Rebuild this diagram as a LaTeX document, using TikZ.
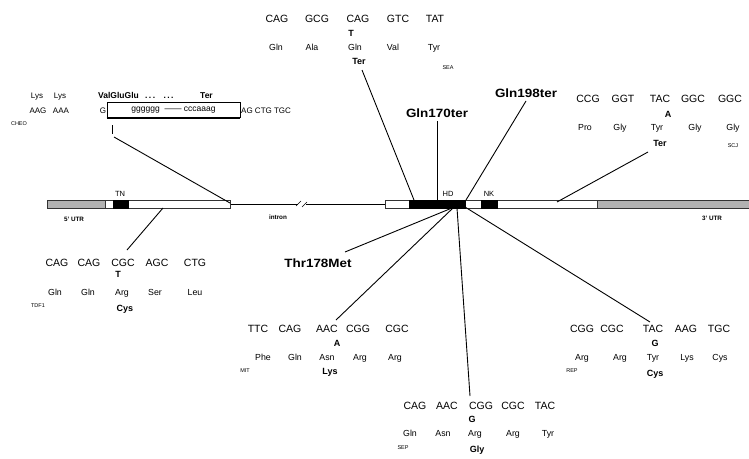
\documentclass[tikz,border=0pt]{standalone}
\usepackage{graphicx}
\usepackage{fontspec}
\setmainfont{Liberation Sans}
\tikzset{
 codon/.style={font=\fontsize{10.5}{12}\selectfont,inner sep=0pt,anchor=base},
 aa/.style={font=\fontsize{8.8}{10}\selectfont,inner sep=0pt,anchor=base},
 mut/.style={font=\bfseries\fontsize{9}{10}\selectfont,inner sep=0pt,anchor=base},
 smalltxt/.style={font=\fontsize{8}{9}\selectfont,inner sep=0pt,anchor=base},
 lab/.style={font=\bfseries\fontsize{12}{13}\selectfont,inner sep=0pt,anchor=base},
 tinylab/.style={font=\fontsize{5.5}{6}\selectfont,inner sep=0pt,anchor=base},
 partlab/.style={font=\fontsize{7.5}{9}\selectfont,inner sep=0pt,anchor=base},
 regionlab/.style={font=\bfseries\fontsize{6.3}{7}\selectfont,inner sep=0pt,anchor=base},
 conn/.style={line width=0.9pt},
 utr/.style={fill=gray!60,draw=black!80,line width=0.5pt},
 exon/.style={fill=white,draw=black!80,line width=0.5pt},
 dom/.style={fill=black,draw=black,line width=0.5pt},
}
\begin{document}
\begin{tikzpicture}[x=1pt,y=-1pt]
\useasboundingbox[fill=white] (0,0) rectangle (749,458);

% ---------------- gene structure ----------------
\draw[line width=0.7pt] (230,204) coordinate (ie1) -- (385,204) coordinate (ie2);
\fill[white] (298,199) rectangle (308,209);
\draw[line width=0.6pt] (296,206) -- (301,201);
\draw[line width=0.6pt] (302,207) -- (307,202);
\draw[line width=0.7pt] (296,204) -- (298,204) (306,204) -- (309,204);
\node[utr, minimum width=58pt, minimum height=8pt, inner sep=0, anchor=west] (utr5) at (47,204) {};
\node[exon, minimum width=125pt, minimum height=8pt, inner sep=0, anchor=west] (ex1) at (105,204) {};
\node[dom, minimum width=15pt, minimum height=8pt, inner sep=0, anchor=west] (tn) at (113,204) {};
\node[exon, minimum width=212pt, minimum height=8pt, inner sep=0, anchor=west] (ex2) at (385,204) {};
\node[dom, minimum width=56pt, minimum height=8pt, inner sep=0, anchor=west] (hd) at (409,204) {};
\node[dom, minimum width=16pt, minimum height=8pt, inner sep=0, anchor=west] (nk) at (481,204) {};
\node[utr, minimum width=152pt, minimum height=8pt, inner sep=0, anchor=west] (utr3) at (597,204) {};

\node[partlab] (tnl) at (120,196) {TN};
\node[partlab] (hdl) at (448,196) {HD};
\node[partlab] (nkl) at (489,196) {NK};
\node[regionlab] (u5l) at (74,221) {5' UTR};
\node[regionlab] (intl) at (278,219) {intron};
\node[regionlab] (u3l) at (712,220) {3' UTR};

% ---------------- connector endpoints on the gene ----------------
\coordinate (g1) at (414,200);
\coordinate (g2) at (437,200);
\coordinate (g3) at (466,200);
\coordinate (g4) at (557,202);
\coordinate (g5) at (230,203);
\coordinate (g6) at (163,208);
\coordinate (g7) at (452,208);
\coordinate (g8) at (453,208);
\coordinate (g9) at (457,208);
\coordinate (g10) at (465,207);

% ---------------- top group ----------------
\foreach \t/\x [count=\i] in {CAG/277,GCG/317,CAG/358,GTC/398,TAT/435}
  \node[codon] (tc\i) at (\x,22) {\t};
\node[mut] (tm) at (351,36) {T};
\foreach \t/\x [count=\i] in {Gln/276,Ala/312,Gln/355,Val/393,Tyr/434}
  \node[aa] (ta\i) at (\x,50) {\t};
\node[mut] (tter) at (359,64) {Ter};
\node[tinylab] (tid) at (448,69) {SEA};
\coordinate (t1) at (362,70);
\draw[conn] (t1) -- (g1);

% ---------------- Gln170ter / Gln198ter ----------------
\node[lab] (q170) at (437,117) {\scalebox{1.12}[1]{Gln170ter}};
\node[lab] (q198) at (526,97) {\scalebox{1.12}[1]{Gln198ter}};
\coordinate (t2) at (437,121);
\coordinate (t3) at (526,101);
\draw[conn] (t2) -- (g2);
\draw[conn] (t3) -- (g3);

% ---------------- right top group ----------------
\foreach \t/\x [count=\i] in {CCG/588,GGT/623,TAC/660,GGC/693,GGC/730}
  \node[codon] (rc\i) at (\x,102) {\t};
\node[mut] (rm) at (668,117) {A};
\foreach \t/\x [count=\i] in {Pro/585,Gly/620,Tyr/657,Gly/695,Gly/733}
  \node[aa] (ra\i) at (\x,130) {\t};
\node[mut] (rter) at (660,146) {Ter};
\node[tinylab] (rid) at (733,147) {SCJ};
\coordinate (t4) at (648,152);
\draw[conn] (t4) -- (g4);

% ---------------- top left group ----------------
\node[smalltxt] (ly1) at (37,98) {Lys};
\node[smalltxt] (ly2) at (60,98) {Lys};
\node[smalltxt, font=\bfseries\fontsize{8.5}{9}\selectfont, anchor=base west] (vgg) at (98,98) {ValGluGlu};
\node[smalltxt, font=\bfseries\fontsize{8.5}{9}\selectfont, anchor=base west] (dts) at (145,98) {.\,.\,.\quad .\,.\,.};
\node[smalltxt, font=\bfseries\fontsize{8.5}{9}\selectfont, anchor=base west] (tlter) at (200,98) {Ter};
\node[smalltxt] (aag) at (38,113) {AAG};
\node[smalltxt] (aaa) at (61,113) {AAA};
\node[smalltxt] (gg) at (103,113) {G};
\node[draw, line width=0.6pt, minimum width=133pt, minimum height=15pt, inner sep=0pt,
      font=\fontsize{8.5}{9}\selectfont] (ins) at (173.5,110) {gggggg \ ——\ cccaaag};
\draw[line width=1.6pt] (ins.south west) -- (ins.south east);
\node[smalltxt, anchor=base west] (agc) at (241,113) {AG CTG TGC};
\node[tinylab] (tlid) at (19,125) {CHEO};
\draw[line width=0.8pt] (112,125) coordinate (tk1) -- (112,134) coordinate (tk2);
\coordinate (t5) at (114,137);
\draw[conn] (t5) -- (g5);

% ---------------- bottom left group ----------------
\foreach \t/\x [count=\i] in {CAG/57,CAG/89,CGC/123,AGC/157,CTG/195}
  \node[codon] (lc\i) at (\x,266) {\t};
\node[mut] (lm) at (118,277) {T};
\foreach \t/\x [count=\i] in {Gln/55,Gln/88,Arg/122,Ser/155,Leu/195}
  \node[aa] (la\i) at (\x,295) {\t};
\node[mut] (lcys) at (125,311) {Cys};
\node[tinylab] (lid) at (38,307) {TDF1};
\coordinate (t6) at (127,250);
\draw[conn] (t6) -- (g6);

% ---------------- Thr178Met ----------------
\node[lab] (t178) at (318,267) {\scalebox{1.12}[1]{Thr178Met}};
\coordinate (t7) at (345,252);
\draw[conn] (t7) -- (g7);

% ---------------- bottom middle group ----------------
\foreach \t/\x [count=\i] in {TTC/258,CAG/290,AAC/327,CGG/358,CGC/397}
  \node[codon] (mc\i) at (\x,332) {\t};
\node[mut] (mm) at (337,346) {A};
\foreach \t/\x [count=\i] in {Phe/263,Gln/295,Asn/327,Arg/360,Arg/395}
  \node[aa] (ma\i) at (\x,360) {\t};
\node[mut] (mlys) at (330,374) {Lys};
\node[tinylab] (mid) at (245,372) {MIT};
\coordinate (t8) at (336,320);
\draw[conn] (t8) -- (g8);

% ---------------- bottom center group ----------------
\foreach \t/\x [count=\i] in {CAG/415,AAC/447,CGG/481,CGC/513,TAC/545}
  \node[codon] (cc\i) at (\x,409) {\t};
\node[mut] (cm) at (472,422) {G};
\foreach \t/\x [count=\i] in {Gln/410,Asn/443,Arg/475,Arg/513,Tyr/548}
  \node[aa] (ca\i) at (\x,436) {\t};
\node[mut] (cgly) at (477,452) {Gly};
\node[tinylab] (cid) at (403,449) {SEP};
\coordinate (t9) at (470,396);
\draw[conn] (t9) -- (g9);

% ---------------- bottom right group ----------------
\foreach \t/\x [count=\i] in {CGG/582,CGC/612,TAC/653,AAG/686,TGC/719}
  \node[codon] (bc\i) at (\x,332) {\t};
\node[mut] (bm) at (655,346) {G};
\foreach \t/\x [count=\i] in {Arg/582,Arg/620,Tyr/653,Lys/687,Cys/720}
  \node[aa] (ba\i) at (\x,360) {\t};
\node[mut] (bcys) at (655,376) {Cys};
\node[tinylab] (bid) at (572,372) {REP};
\coordinate (t10) at (650,322);
\draw[conn] (t10) -- (g10);
\end{tikzpicture}
\end{document}
